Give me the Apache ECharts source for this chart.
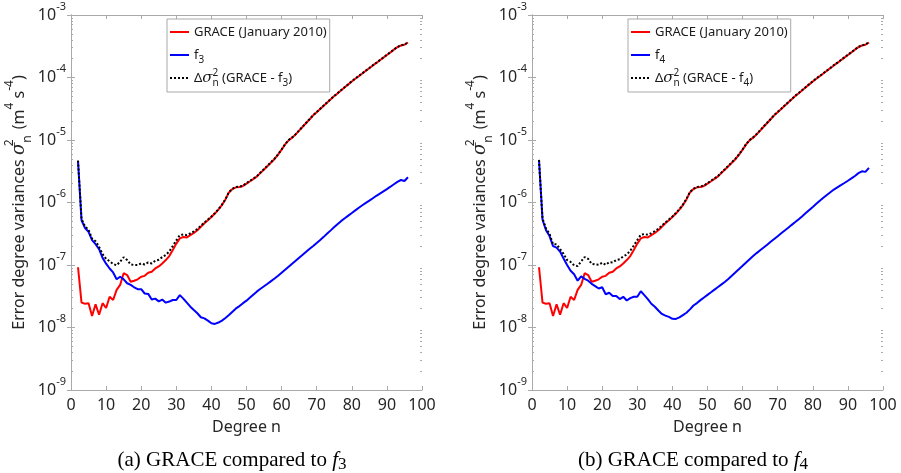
<!DOCTYPE html>
<html>
<head>
<meta charset="utf-8">
<script src="https://cdn.jsdelivr.net/npm/echarts@6/dist/echarts.min.js"></script>
<style>
  html, body { margin: 0; padding: 0; background: #ffffff; }
  #chart { width: 901px; height: 473px; }
</style>
</head>
<body>
<div id="chart"></div>
<script>
// Spherical-harmonic degree n
const degrees = [2, 3, 4, 5, 6, 7, 8, 9, 10, 11, 12, 13, 14, 15, 16, 17, 18, 19, 20, 21,
  22, 23, 24, 25, 26, 27, 28, 29, 30, 31, 32, 33, 34, 35, 36, 37, 38, 39, 40, 41,
  42, 43, 44, 45, 46, 47, 48, 49, 50, 51, 52, 53, 54, 55, 56, 57, 58, 59, 60, 61,
  62, 63, 64, 65, 66, 67, 68, 69, 70, 71, 72, 73, 74, 75, 76, 77, 78, 79, 80, 81,
  82, 83, 84, 85, 86, 87, 88, 89, 90, 91, 92, 93, 94, 95, 96];

// GRACE error degree variances, January 2010 (m^4 s^-4)
const graceJan2010 = [9.2e-8, 2.5e-8, 2.4e-8, 2.45e-8, 1.53e-8, 2.35e-8, 1.6e-8, 2.45e-8, 2.05e-8, 3.1e-8,
  2.75e-8, 4.0e-8, 4.8e-8, 7.4e-8, 6.9e-8, 5.4e-8, 5.6e-8, 5.9e-8, 6.5e-8, 6.7e-8,
  7.5e-8, 7.8e-8, 8.8e-8, 9.5e-8, 1.06e-7, 1.2e-7, 1.39e-7, 1.74e-7, 2.2e-7, 2.67e-7,
  2.8e-7, 2.75e-7, 3.0e-7, 3.25e-7, 3.6e-7, 4.1e-7, 4.65e-7, 5.2e-7, 5.85e-7, 6.65e-7,
  7.7e-7, 9.1e-7, 1.12e-6, 1.45e-6, 1.64e-6, 1.75e-6, 1.77e-6, 1.84e-6, 2.01e-6, 2.19e-6,
  2.39e-6, 2.62e-6, 2.98e-6, 3.38e-6, 3.84e-6, 4.37e-6, 4.97e-6, 5.85e-6, 7.0e-6, 8.5e-6,
  9.9e-6, 1.09e-5, 1.23e-5, 1.41e-5, 1.63e-5, 1.87e-5, 2.15e-5, 2.48e-5, 2.79e-5, 3.14e-5,
  3.54e-5, 3.98e-5, 4.49e-5, 5.04e-5, 5.61e-5, 6.25e-5, 6.97e-5, 7.76e-5, 8.65e-5, 9.57e-5,
  1.05e-4, 1.16e-4, 1.28e-4, 1.41e-4, 1.56e-4, 1.71e-4, 1.89e-4, 2.08e-4, 2.29e-4, 2.52e-4,
  2.79e-4, 3.06e-4, 3.25e-4, 3.34e-4, 3.63e-4];

// Model f3 error degree variances
const modelF3 = [4.6e-6, 5.2e-7, 3.9e-7, 3.4e-7, 2.5e-7, 2.15e-7, 1.8e-7, 1.3e-7, 1.05e-7, 8.8e-8,
  7.6e-8, 5.9e-8, 6.5e-8, 5.9e-8, 5.1e-8, 4.8e-8, 4.4e-8, 4.1e-8, 4.1e-8, 3.5e-8,
  3.45e-8, 2.8e-8, 2.9e-8, 2.62e-8, 2.8e-8, 2.5e-8, 2.6e-8, 2.75e-8, 2.75e-8, 3.3e-8,
  2.9e-8, 2.5e-8, 2.15e-8, 1.9e-8, 1.69e-8, 1.46e-8, 1.4e-8, 1.29e-8, 1.17e-8, 1.14e-8,
  1.2e-8, 1.29e-8, 1.42e-8, 1.58e-8, 1.79e-8, 2.02e-8, 2.2e-8, 2.45e-8, 2.69e-8, 3.01e-8,
  3.38e-8, 3.78e-8, 4.16e-8, 4.57e-8, 5.02e-8, 5.53e-8, 6.08e-8, 6.73e-8, 7.52e-8, 8.41e-8,
  9.4e-8, 1.05e-7, 1.17e-7, 1.31e-7, 1.46e-7, 1.63e-7, 1.82e-7, 2.02e-7, 2.25e-7, 2.51e-7,
  2.82e-7, 3.18e-7, 3.58e-7, 4.04e-7, 4.54e-7, 5.08e-7, 5.6e-7, 6.17e-7, 6.79e-7, 7.48e-7,
  8.24e-7, 9.03e-7, 9.84e-7, 1.07e-6, 1.17e-6, 1.28e-6, 1.39e-6, 1.51e-6, 1.64e-6, 1.79e-6,
  1.96e-6, 2.14e-6, 2.29e-6, 2.21e-6, 2.53e-6];

// Difference variances GRACE - f3
const diffF3 = [4.7e-6, 5.45e-7, 4.15e-7, 3.65e-7, 2.65e-7, 2.4e-7, 1.95e-7, 1.5e-7, 1.25e-7, 1.15e-7,
  1.04e-7, 9.9e-8, 1.13e-7, 1.33e-7, 1.2e-7, 1.02e-7, 1.0e-7, 1.0e-7, 1.06e-7, 1.02e-7,
  1.1e-7, 1.06e-7, 1.17e-7, 1.21e-7, 1.34e-7, 1.45e-7, 1.65e-7, 2.02e-7, 2.48e-7, 3.0e-7,
  3.09e-7, 3.0e-7, 3.22e-7, 3.44e-7, 3.77e-7, 4.25e-7, 4.79e-7, 5.33e-7, 5.97e-7, 6.76e-7,
  7.82e-7, 9.23e-7, 1.13e-6, 1.47e-6, 1.66e-6, 1.77e-6, 1.79e-6, 1.86e-6, 2.04e-6, 2.22e-6,
  2.42e-6, 2.66e-6, 3.02e-6, 3.43e-6, 3.89e-6, 4.43e-6, 5.03e-6, 5.92e-6, 7.08e-6, 8.58e-6,
  9.99e-6, 1.1e-5, 1.24e-5, 1.42e-5, 1.64e-5, 1.89e-5, 2.17e-5, 2.5e-5, 2.81e-5, 3.17e-5,
  3.57e-5, 4.01e-5, 4.53e-5, 5.08e-5, 5.66e-5, 6.3e-5, 7.03e-5, 7.82e-5, 8.72e-5, 9.65e-5,
  1.06e-4, 1.17e-4, 1.29e-4, 1.42e-4, 1.57e-4, 1.72e-4, 1.9e-4, 2.1e-4, 2.31e-4, 2.54e-4,
  2.81e-4, 3.08e-4, 3.27e-4, 3.36e-4, 3.66e-4];

// Model f4 error degree variances
const modelF4 = [4.7e-6, 5.3e-7, 3.6e-7, 2.9e-7, 2.0e-7, 1.9e-7, 1.64e-7, 1.27e-7, 1.0e-7, 8.1e-8,
  7.1e-8, 5.6e-8, 6.6e-8, 6.0e-8, 5.6e-8, 5.0e-8, 4.6e-8, 4.2e-8, 4.4e-8, 3.4e-8,
  3.6e-8, 3.2e-8, 3.2e-8, 2.85e-8, 3.1e-8, 2.7e-8, 2.95e-8, 3.1e-8, 3.1e-8, 3.8e-8,
  3.3e-8, 2.85e-8, 2.4e-8, 2.15e-8, 1.87e-8, 1.65e-8, 1.55e-8, 1.48e-8, 1.38e-8, 1.37e-8,
  1.45e-8, 1.58e-8, 1.72e-8, 1.95e-8, 2.25e-8, 2.46e-8, 2.74e-8, 3.02e-8, 3.33e-8, 3.66e-8,
  4.04e-8, 4.45e-8, 4.9e-8, 5.4e-8, 6.03e-8, 6.79e-8, 7.66e-8, 8.63e-8, 9.73e-8, 1.1e-7,
  1.24e-7, 1.39e-7, 1.55e-7, 1.72e-7, 1.9e-7, 2.11e-7, 2.35e-7, 2.61e-7, 2.89e-7, 3.21e-7,
  3.56e-7, 3.95e-7, 4.39e-7, 4.87e-7, 5.41e-7, 6.05e-7, 6.78e-7, 7.6e-7, 8.51e-7, 9.55e-7,
  1.07e-6, 1.19e-6, 1.32e-6, 1.46e-6, 1.61e-6, 1.75e-6, 1.89e-6, 2.05e-6, 2.23e-6, 2.43e-6,
  2.66e-6, 2.95e-6, 3.16e-6, 3.09e-6, 3.59e-6];

// Difference variances GRACE - f4
const diffF4 = [4.8e-6, 5.55e-7, 3.84e-7, 3.15e-7, 2.15e-7, 2.14e-7, 1.8e-7, 1.51e-7, 1.2e-7, 1.12e-7,
  9.85e-8, 9.6e-8, 1.14e-7, 1.34e-7, 1.25e-7, 1.04e-7, 1.02e-7, 1.01e-7, 1.09e-7, 1.01e-7,
  1.11e-7, 1.1e-7, 1.2e-7, 1.24e-7, 1.37e-7, 1.47e-7, 1.69e-7, 2.05e-7, 2.51e-7, 3.05e-7,
  3.13e-7, 3.04e-7, 3.24e-7, 3.47e-7, 3.79e-7, 4.27e-7, 4.8e-7, 5.35e-7, 5.99e-7, 6.79e-7,
  7.85e-7, 9.26e-7, 1.14e-6, 1.47e-6, 1.66e-6, 1.77e-6, 1.8e-6, 1.87e-6, 2.04e-6, 2.23e-6,
  2.43e-6, 2.66e-6, 3.03e-6, 3.43e-6, 3.9e-6, 4.44e-6, 5.05e-6, 5.94e-6, 7.1e-6, 8.61e-6,
  1.0e-5, 1.1e-5, 1.25e-5, 1.43e-5, 1.65e-5, 1.89e-5, 2.17e-5, 2.51e-5, 2.82e-5, 3.17e-5,
  3.58e-5, 4.02e-5, 4.53e-5, 5.09e-5, 5.66e-5, 6.31e-5, 7.04e-5, 7.84e-5, 8.74e-5, 9.67e-5,
  1.06e-4, 1.17e-4, 1.29e-4, 1.42e-4, 1.58e-4, 1.73e-4, 1.91e-4, 2.1e-4, 2.31e-4, 2.54e-4,
  2.82e-4, 3.09e-4, 3.28e-4, 3.37e-4, 3.67e-4];

// Axis ranges
const degreeRange = [0, 100];
const degreeStep = 10;
const varianceRange = [1e-9, 1e-3];

// Series names and panel captions
const graceName = 'GRACE (January 2010)';
const panels = [
  { model: 'f3', sub: '3', modelData: modelF3, diffData: diffF3, diffName: 'Δσ²n (GRACE - f3)', caption: '(a) GRACE compared to ' },
  { model: 'f4', sub: '4', modelData: modelF4, diffData: diffF4, diffName: 'Δσ²n (GRACE - f4)', caption: '(b) GRACE compared to ' }
];

// ---------------------------------------------------------------
const TEXT = '#262626';
const BOX = '#a9a9a9';
const gridLeft = [71, 532];
const gridTop = 15, gridW = 351, gridH = 375;

// minor log ticks (2..9 within each decade), as exponents
const minorExps = [];
for (let d = -9; d < -3; d++) {
  for (let k = 2; k <= 9; k++) minorExps.push(d + Math.log10(k));
}

const pairs = arr => degrees.map((n, i) => [n, arr[i]]);

const legendNames = {};
legendNames[graceName] = graceName;
panels.forEach(p => {
  legendNames[p.model] = 'f{sub|' + p.sub + '}';
  legendNames[p.diffName] = 'Δ{sig|σ}{sup0|2}{sub|n} (GRACE - f{sub|' + p.sub + '})';
});

const grid = [], xAxis = [], yAxis = [], series = [], legend = [], graphic = [];

panels.forEach((p, pi) => {
  grid.push({ left: gridLeft[pi], top: gridTop, width: gridW, height: gridH, containLabel: false });

  const xCommon = {
    type: 'value', gridIndex: pi, min: degreeRange[0], max: degreeRange[1], interval: degreeStep,
    splitLine: { show: false },
    axisLine: { show: true, lineStyle: { color: BOX, width: 1 } },
    axisTick: { show: true, inside: true, length: 4, lineStyle: { color: BOX } }
  };
  xAxis.push(Object.assign({}, xCommon, {
    position: 'bottom',
    axisLabel: { show: true, color: TEXT, fontSize: 16, margin: 7, fontFamily: 'Noto Sans' },
    name: 'Degree n', nameLocation: 'middle', nameGap: 29,
    nameTextStyle: { color: TEXT, fontSize: 16, fontFamily: 'Noto Sans' }
  }));
  xAxis.push(Object.assign({}, xCommon, { position: 'top', axisLabel: { show: false } }));

  const yLog = {
    type: 'log', logBase: 10, gridIndex: pi, min: varianceRange[0], max: varianceRange[1],
    splitLine: { show: false },
    axisLine: { show: true, lineStyle: { color: BOX, width: 1 } },
    axisTick: { show: true, inside: true, length: 4, lineStyle: { color: BOX } },
    minorTick: { show: false }
  };
  yAxis.push(Object.assign({}, yLog, {
    position: 'left',
    axisLabel: {
      show: true, margin: 5, color: TEXT,
      formatter: v => '{b|10}{s|' + Math.round(Math.log10(v)) + '}',
      rich: {
        b: { fontSize: 16, lineHeight: 28, color: TEXT, fontFamily: 'Noto Sans' },
        s: { fontSize: 11, lineHeight: 16, verticalAlign: 'top', color: TEXT, fontFamily: 'Noto Sans' }
      }
    },
    name: 'Error degree variances {sig|σ}{sup0|2}{sub|n} (m{sup|4} s{sup|-4})',
    nameLocation: 'middle', nameGap: 37, nameRotate: 90,
    nameTextStyle: {
      color: TEXT, fontSize: 16, lineHeight: 30, fontFamily: 'Noto Sans',
      rich: {
        sig: { fontSize: 18, lineHeight: 30, fontStyle: 'italic', fontFamily: 'DejaVu Serif', color: TEXT },
        sup0: { fontSize: 12, lineHeight: 18, verticalAlign: 'top', width: 0, color: TEXT, fontFamily: 'Noto Sans' },
        sup: { fontSize: 12, lineHeight: 20, verticalAlign: 'top', color: TEXT, fontFamily: 'Noto Sans' },
        sub: { fontSize: 12, lineHeight: 18, verticalAlign: 'bottom', color: TEXT, fontFamily: 'Noto Sans', padding: [0, 2, 0, 0] }
      }
    }
  }));
  yAxis.push(Object.assign({}, yLog, { position: 'right', axisLabel: { show: false } }));

  const yMinor = {
    type: 'value', gridIndex: pi, min: -9, max: -3,
    splitLine: { show: false }, axisLine: { show: false }, axisLabel: { show: false },
    axisTick: { show: true, inside: true, length: 2, customValues: minorExps, lineStyle: { color: BOX } }
  };
  yAxis.push(Object.assign({}, yMinor, { position: 'left' }));
  yAxis.push(Object.assign({}, yMinor, { position: 'right' }));

  const xi = pi * 2, yi = pi * 4;
  const lineBase = { type: 'line', xAxisIndex: xi, yAxisIndex: yi, symbol: 'none', showSymbol: false, smooth: false, animation: false };
  series.push(Object.assign({}, lineBase, { name: graceName, data: pairs(graceJan2010), lineStyle: { color: '#ff0000', width: 2 }, itemStyle: { color: '#ff0000' }, z: 2 }));
  series.push(Object.assign({}, lineBase, { name: p.model, data: pairs(p.modelData), lineStyle: { color: '#0000ff', width: 2 }, itemStyle: { color: '#0000ff' }, z: 3 }));
  series.push(Object.assign({}, lineBase, { name: p.diffName, data: pairs(p.diffData), lineStyle: { color: '#000000', width: 2, type: 'dotted' }, itemStyle: { color: '#000000' }, z: 4 }));

  legend.push({
    orient: 'vertical', left: gridLeft[pi] + 96, top: 19,
    data: [graceName, p.model, p.diffName],
    padding: [3, 3, 4, 2], itemGap: 3, itemWidth: 19, itemHeight: 14,
    backgroundColor: '#ffffff', borderColor: BOX, borderWidth: 1, borderRadius: 0,
    selectedMode: false,
    itemStyle: { opacity: 0, borderWidth: 0 },
    formatter: name => legendNames[name],
    textStyle: {
      color: '#1a1a1a', fontSize: 13, lineHeight: 20, fontFamily: 'Noto Sans',
      rich: {
        sig: { fontSize: 15, lineHeight: 20, fontStyle: 'italic', fontFamily: 'DejaVu Serif', color: '#1a1a1a' },
        sup0: { fontSize: 10, lineHeight: 12, verticalAlign: 'top', width: 0, color: '#1a1a1a', fontFamily: 'Noto Sans' },
        sub: { fontSize: 10, lineHeight: 12, verticalAlign: 'bottom', color: '#1a1a1a', fontFamily: 'Noto Sans' }
      }
    }
  });

  graphic.push({
    type: 'text', x: gridLeft[pi] + 161, y: 460,
    style: {
      text: p.caption + '{i|f}{sub|' + p.sub + '}',
      fontSize: 21, fontFamily: 'Liberation Serif', fill: '#000000', lineHeight: 26,
      align: 'center', verticalAlign: 'middle',
      rich: {
        i: { fontSize: 21, lineHeight: 26, fontStyle: 'italic', fontFamily: 'Liberation Serif', fill: '#000000' },
        sub: { fontSize: 17, lineHeight: 20, verticalAlign: 'bottom', fontFamily: 'Liberation Serif', fill: '#000000' }
      }
    }
  });
});

const chart = echarts.init(document.getElementById('chart'), null, { renderer: 'canvas' });
chart.setOption({
  backgroundColor: '#ffffff',
  animation: false,
  textStyle: { fontFamily: 'Noto Sans' },
  grid, xAxis, yAxis, series, legend, graphic
});
</script>
</body>
</html>
